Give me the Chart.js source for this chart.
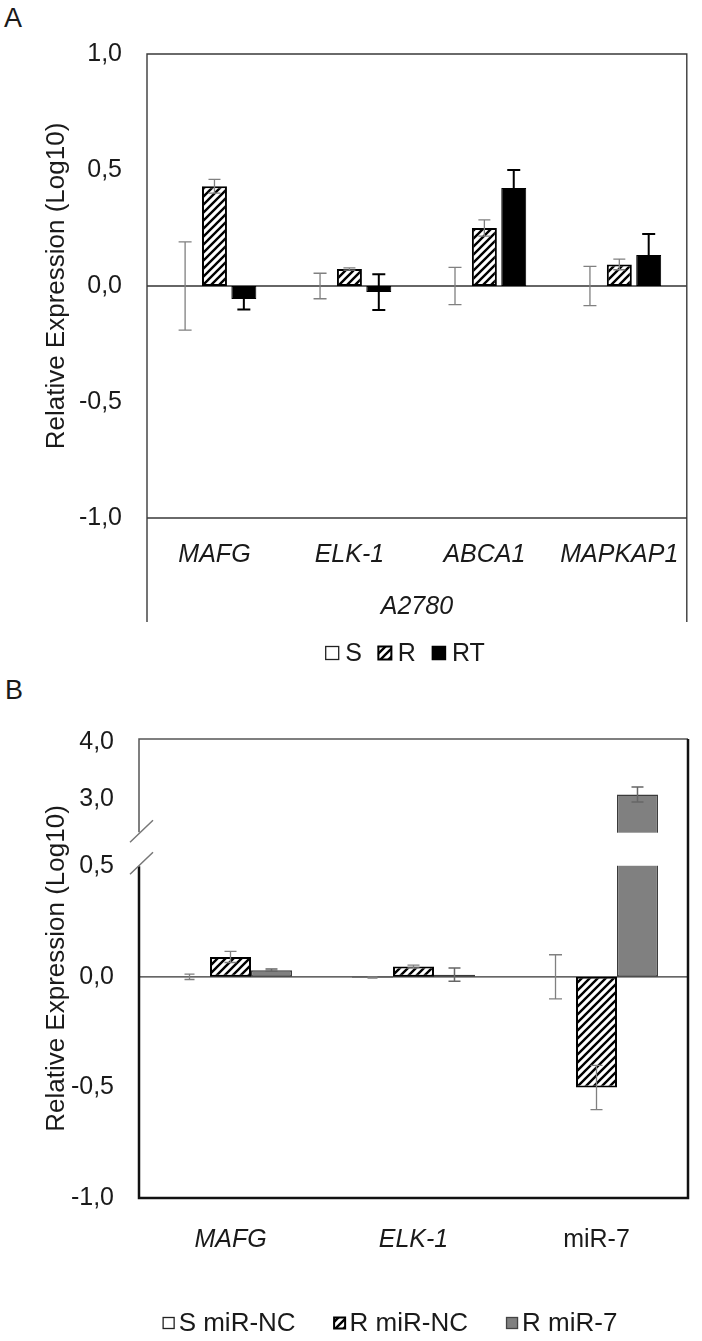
<!DOCTYPE html>
<html><head><meta charset="utf-8">
<script src="https://cdn.jsdelivr.net/npm/chart.js@4.4.1/dist/chart.umd.min.js"></script>
<style>
html,body{margin:0;padding:0;background:#fff;}
#wrap{position:relative;width:702px;height:1341px;overflow:hidden;background:#fff;}
.pl{position:absolute;font-family:'Liberation Sans',Arial,sans-serif;font-size:27px;line-height:27px;color:#1a1a1a;}
</style></head><body>
<div id="wrap">
  <div class="pl" style="left:4px;top:5px;">A</div>
  <div class="pl" style="left:5px;top:677px;">B</div>
  <canvas id="ca" width="702" height="680" style="position:absolute;left:0;top:0;"></canvas>
  <canvas id="cb" width="702" height="661" style="position:absolute;left:0;top:680px;"></canvas>
</div>
<script>
// ---------- DATA ----------
const categoriesA = ['MAFG', 'ELK-1', 'ABCA1', 'MAPKAP1'];
const groupLabelA = 'A2780';
const seriesNamesA = ['S', 'R', 'RT'];
const valuesA_S  = [0, 0, 0, 0];
const errorsA_S  = [0.19, 0.055, 0.08, 0.085];
const valuesA_R  = [0.43, 0.073, 0.25, 0.093];
const errorsA_R  = [0.03, 0.005, 0.035, 0.023];
const valuesA_RT = [-0.056, -0.026, 0.422, 0.134];
const errorsA_RT = [0.045, 0.077, 0.078, 0.09];
const ticksA = [-1, -0.5, 0, 0.5, 1];

const categoriesB = ['MAFG', 'ELK-1', 'miR-7'];
const seriesNamesB = ['S miR-NC', 'R miR-NC', 'R miR-7'];
const valuesB_S = [0, -0.003, 0];
const errorsB_S = [0.012, 0.003, 0.1];
const valuesB_R = [0.09, 0.047, -0.5];
const errorsB_R = [0.025, 0.006, 0.1];
const valuesB_M = [0.03, 0.01, 3.08];
const errorsB_M = [0.005, 0.03, 0.13];
const ticksB = [-1, -0.5, 0, 0.5, 3, 4];
const yTitle = 'Relative Expression (Log10)';

// ---------- STYLE ----------
const FONT = "'Liberation Sans', Arial, sans-serif";
const TXT = '#1a1a1a';
function fmt(v){ return Number(v).toFixed(1).replace('.', ','); }

// broken axis layout for panel B (value ranges + fraction of plot height)
const BRK = {lowMin:-1, lowMax:0.5, upMin:2.42, upMax:4.05, fLow:331/458, fGap:34/458};
class BrokenLinearScale extends Chart.LinearScale {
  getPixelForValue(value) {
    const h = this.bottom - this.top;
    const fUp = 1 - BRK.fLow - BRK.fGap;
    let f;
    if (value <= BRK.lowMax) f = (value - BRK.lowMin) / (BRK.lowMax - BRK.lowMin) * BRK.fLow;
    else if (value < BRK.upMin) f = BRK.fLow + (value - BRK.lowMax) / (BRK.upMin - BRK.lowMax) * BRK.fGap;
    else f = BRK.fLow + BRK.fGap + (value - BRK.upMin) / (BRK.upMax - BRK.upMin) * fUp;
    return this.bottom - f * h;
  }
  getValueForPixel(pixel) {
    const h = this.bottom - this.top;
    const f = (this.bottom - pixel) / h;
    const fUp = 1 - BRK.fLow - BRK.fGap;
    if (f <= BRK.fLow) return BRK.lowMin + f / BRK.fLow * (BRK.lowMax - BRK.lowMin);
    if (f < BRK.fLow + BRK.fGap) return BRK.lowMax + (f - BRK.fLow) / BRK.fGap * (BRK.upMin - BRK.lowMax);
    return BRK.upMin + (f - BRK.fLow - BRK.fGap) / fUp * (BRK.upMax - BRK.upMin);
  }
}
BrokenLinearScale.id = 'brokenLinear';
BrokenLinearScale.defaults = Chart.LinearScale.defaults;
Chart.register(BrokenLinearScale);

function makeHatch(ctx) {
  const s = 8;
  const c = document.createElement('canvas'); c.width = s; c.height = s;
  const g = c.getContext('2d');
  g.fillStyle = '#fff'; g.fillRect(0, 0, s, s);
  g.strokeStyle = '#000'; g.lineWidth = 2.4;
  g.beginPath();
  g.moveTo(-2, s + 2); g.lineTo(s + 2, -2);
  g.moveTo(-2, 2); g.lineTo(2, -2);
  g.moveTo(s - 2, s + 2); g.lineTo(s + 2, s - 2);
  g.stroke();
  return ctx.createPattern(c, 'repeat');
}

const errorBarPlugin = {
  id: 'errbars',
  afterDatasetsDraw(chart) {
    const ctx = chart.ctx, y = chart.scales.y;
    chart.data.datasets.forEach((ds, di) => {
      const meta = chart.getDatasetMeta(di);
      meta.data.forEach((bar, i) => {
        const v = ds.data[i], e = ds.errors[i];
        const x = bar.x;
        const y1 = y.getPixelForValue(v + e), y2 = y.getPixelForValue(v - e);
        const cw = Array.isArray(ds.capW) ? ds.capW[i] : ds.capW;
        ctx.save();
        ctx.strokeStyle = ds.errColor; ctx.lineWidth = ds.errWidth;
        ctx.beginPath();
        ctx.moveTo(x, y1); ctx.lineTo(x, y2);
        ctx.moveTo(x - cw / 2, y1); ctx.lineTo(x + cw / 2, y1);
        ctx.moveTo(x - cw / 2, y2); ctx.lineTo(x + cw / 2, y2);
        ctx.stroke();
        ctx.restore();
      });
    });
  }
};

function drawLegend(chart, cfg) {
  const ctx = chart.ctx;
  ctx.save();
  ctx.font = cfg.font;
  const items = chart.data.datasets.map(ds => ({ds, w: ctx.measureText(ds.label).width}));
  const total = items.reduce((s, it) => s + cfg.box + cfg.textGap + it.w, 0) + cfg.itemGap * (items.length - 1);
  let x = cfg.cx - total / 2;
  items.forEach(it => {
    const by = cfg.cy - cfg.box / 2;
    ctx.fillStyle = it.ds.backgroundColor;
    ctx.fillRect(x, by, cfg.box, cfg.box);
    ctx.lineWidth = it.ds.legendBorder || 1.5;
    ctx.strokeStyle = it.ds.legendBorderColor || '#000';
    ctx.strokeRect(x + 0.5, by + 0.5, cfg.box - 1, cfg.box - 1);
    ctx.fillStyle = TXT; ctx.textBaseline = 'middle'; ctx.textAlign = 'left';
    ctx.fillText(it.ds.label, x + cfg.box + cfg.textGap, cfg.cy + 1);
    x += cfg.box + cfg.textGap + it.w + cfg.itemGap;
  });
  ctx.restore();
}

// ---------- PANEL A ----------
const ctxA = document.getElementById('ca').getContext('2d');
const hatchA = makeHatch(ctxA);
const panelA = {
  id: 'panelA',
  beforeDatasetsDraw(chart) {
    const {ctx, chartArea: a} = chart; const y = chart.scales.y;
    const y0 = y.getPixelForValue(0);
    ctx.save(); ctx.strokeStyle = '#333'; ctx.lineWidth = 1.3;
    ctx.beginPath(); ctx.moveTo(a.left, y0); ctx.lineTo(a.right, y0); ctx.stroke();
    ctx.restore();
  },
  afterDraw(chart) {
    const {ctx, chartArea: a} = chart; const xs = chart.scales.x;
    ctx.save(); ctx.strokeStyle = '#3a3a3a'; ctx.lineWidth = 1.4;
    ctx.beginPath();
    ctx.moveTo(a.left, xs.bottom); ctx.lineTo(a.left, a.top); ctx.lineTo(a.right, a.top); ctx.lineTo(a.right, xs.bottom);
    ctx.moveTo(a.left, a.bottom); ctx.lineTo(a.right, a.bottom);
    ctx.stroke(); ctx.restore();
    drawLegend(chart, {cx: 405, cy: 653, box: 14, textGap: 6, itemGap: 16, font: '25px ' + FONT});
  }
};
new Chart(ctxA, {
  type: 'bar',
  data: {
    labels: categoriesA,
    datasets: [
      {label: seriesNamesA[0], data: valuesA_S, errors: errorsA_S, backgroundColor: '#fff', borderColor: '#000', borderWidth: 1,
       errColor: '#808080', errWidth: 1.3, capW: 13, legendBorder: 1.3, legendBorderColor: '#222'},
      {label: seriesNamesA[1], data: valuesA_R, errors: errorsA_R, backgroundColor: hatchA, borderColor: '#000', borderWidth: 2,
       errColor: '#808080', errWidth: 1.3, capW: 12, legendBorder: 2},
      {label: seriesNamesA[2], data: valuesA_RT, errors: errorsA_RT, backgroundColor: '#000', borderColor: '#000', borderWidth: 1,
       errColor: '#000', errWidth: 2, capW: 13}
    ]
  },
  options: {
    responsive: false, animation: false, devicePixelRatio: 1,
    datasets: {bar: {categoryPercentage: 0.653, barPercentage: 0.85, borderSkipped: false}},
    layout: {padding: {top: 54, right: 13, left: 0, bottom: 58}},
    plugins: {legend: {display: false}, tooltip: {enabled: false}},
    scales: {
      x: {
        grid: {display: false, drawTicks: false}, border: {display: false},
        ticks: {font: {family: FONT, size: 25, style: 'italic'}, color: TXT, padding: 22, maxRotation: 0, autoSkip: false},
        title: {display: true, text: groupLabelA, font: {family: FONT, size: 25, style: 'italic'}, color: TXT, padding: {top: 0, bottom: 0}},
        afterFit: s => { s.height = 104; }
      },
      y: {
        min: -1, max: 1,
        grid: {display: false, drawTicks: false}, border: {display: false},
        afterBuildTicks: s => { s.ticks = ticksA.map(v => ({value: v})); },
        ticks: {font: {family: FONT, size: 25}, color: TXT, padding: 25, autoSkip: false, callback: v => fmt(v)},
        title: {display: true, text: yTitle, font: {family: FONT, size: 26}, color: TXT, padding: {top: 41, bottom: 0}},
        afterFit: s => { s.width = 147; }
      }
    }
  },
  plugins: [panelA, errorBarPlugin]
});

// ---------- PANEL B ----------
const ctxB = document.getElementById('cb').getContext('2d');
const hatchB = makeHatch(ctxB);
const panelB = {
  id: 'panelB',
  beforeDatasetsDraw(chart) {
    const {ctx, chartArea: a} = chart; const y = chart.scales.y;
    const y0 = y.getPixelForValue(0);
    ctx.save(); ctx.strokeStyle = '#333'; ctx.lineWidth = 1.3;
    ctx.beginPath(); ctx.moveTo(a.left, y0); ctx.lineTo(a.right, y0); ctx.stroke();
    ctx.restore();
  },
  afterDatasetsDraw(chart) {
    // white gap of the broken axis
    const {ctx, chartArea: a} = chart; const y = chart.scales.y;
    const gTop = y.getPixelForValue(BRK.upMin), gBot = y.getPixelForValue(BRK.lowMax);
    ctx.save(); ctx.fillStyle = '#fff';
    ctx.fillRect(a.left + 1, gTop + 0.5, a.right - a.left - 3, gBot - gTop - 1);
    ctx.restore();
  },
  afterDraw(chart) {
    const {ctx, chartArea: a} = chart; const y = chart.scales.y;
    const gTop = y.getPixelForValue(BRK.upMin), gBot = y.getPixelForValue(BRK.lowMax);
    ctx.save();
    ctx.strokeStyle = '#555'; ctx.lineWidth = 1.5;
    ctx.beginPath();
    ctx.moveTo(a.left, gTop); ctx.lineTo(a.left, a.top); ctx.lineTo(a.right, a.top);
    ctx.stroke();
    ctx.strokeStyle = '#111'; ctx.lineWidth = 2.5;
    ctx.beginPath();
    ctx.moveTo(a.left, gBot); ctx.lineTo(a.left, a.bottom); ctx.lineTo(a.right, a.bottom); ctx.lineTo(a.right, a.top);
    ctx.stroke();
    ctx.strokeStyle = '#777'; ctx.lineWidth = 1.5;
    ctx.beginPath();
    ctx.moveTo(a.left - 9, gTop + 10); ctx.lineTo(a.left + 14, gTop - 12);
    ctx.moveTo(a.left - 9, gBot + 8); ctx.lineTo(a.left + 14, gBot - 14);
    ctx.stroke();
    ctx.restore();
    drawLegend(chart, {cx: 390, cy: 643, box: 12, textGap: 4, itemGap: 38, font: '26px ' + FONT});
  }
};
new Chart(ctxB, {
  type: 'bar',
  data: {
    labels: categoriesB,
    datasets: [
      {label: seriesNamesB[0], data: valuesB_S, errors: errorsB_S, backgroundColor: '#fff', borderColor: '#000', borderWidth: 1,
       errColor: '#808080', errWidth: 1.3, capW: [10, 10, 13], legendBorder: 1.3, legendBorderColor: '#222'},
      {label: seriesNamesB[1], data: valuesB_R, errors: errorsB_R, backgroundColor: hatchB, borderColor: '#000', borderWidth: 2,
       errColor: '#808080', errWidth: 1.3, capW: 12, legendBorder: 2},
      {label: seriesNamesB[2], data: valuesB_M, errors: errorsB_M, backgroundColor: '#808080', borderColor: '#3a3a3a', borderWidth: 1.5,
       errColor: '#666', errWidth: 1.5, capW: 12, legendBorder: 1.3, legendBorderColor: '#444'}
    ]
  },
  options: {
    responsive: false, animation: false, devicePixelRatio: 1,
    datasets: {bar: {categoryPercentage: 0.672, barPercentage: 1.0, borderSkipped: false}},
    layout: {padding: {top: 59, right: 14, left: 0, bottom: 83}},
    plugins: {legend: {display: false}, tooltip: {enabled: false}},
    scales: {
      x: {
        grid: {display: false, drawTicks: false}, border: {display: false},
        ticks: {font: ctx => ({family: FONT, size: 25, style: ctx.index === 2 ? 'normal' : 'italic'}),
                color: TXT, padding: 27, maxRotation: 0, autoSkip: false},
        afterFit: s => { s.height = 60; }
      },
      y: {
        type: 'brokenLinear', min: BRK.lowMin, max: BRK.upMax,
        grid: {display: false, drawTicks: false}, border: {display: false},
        afterBuildTicks: s => { s.ticks = ticksB.map(v => ({value: v})); },
        ticks: {font: {family: FONT, size: 25}, color: TXT, padding: 25, autoSkip: false, callback: v => fmt(v)},
        title: {display: true, text: yTitle, font: {family: FONT, size: 26}, color: TXT, padding: {top: 41, bottom: 0}},
        afterFit: s => { s.width = 139; }
      }
    }
  },
  plugins: [panelB, errorBarPlugin]
});
</script>
</body></html>
